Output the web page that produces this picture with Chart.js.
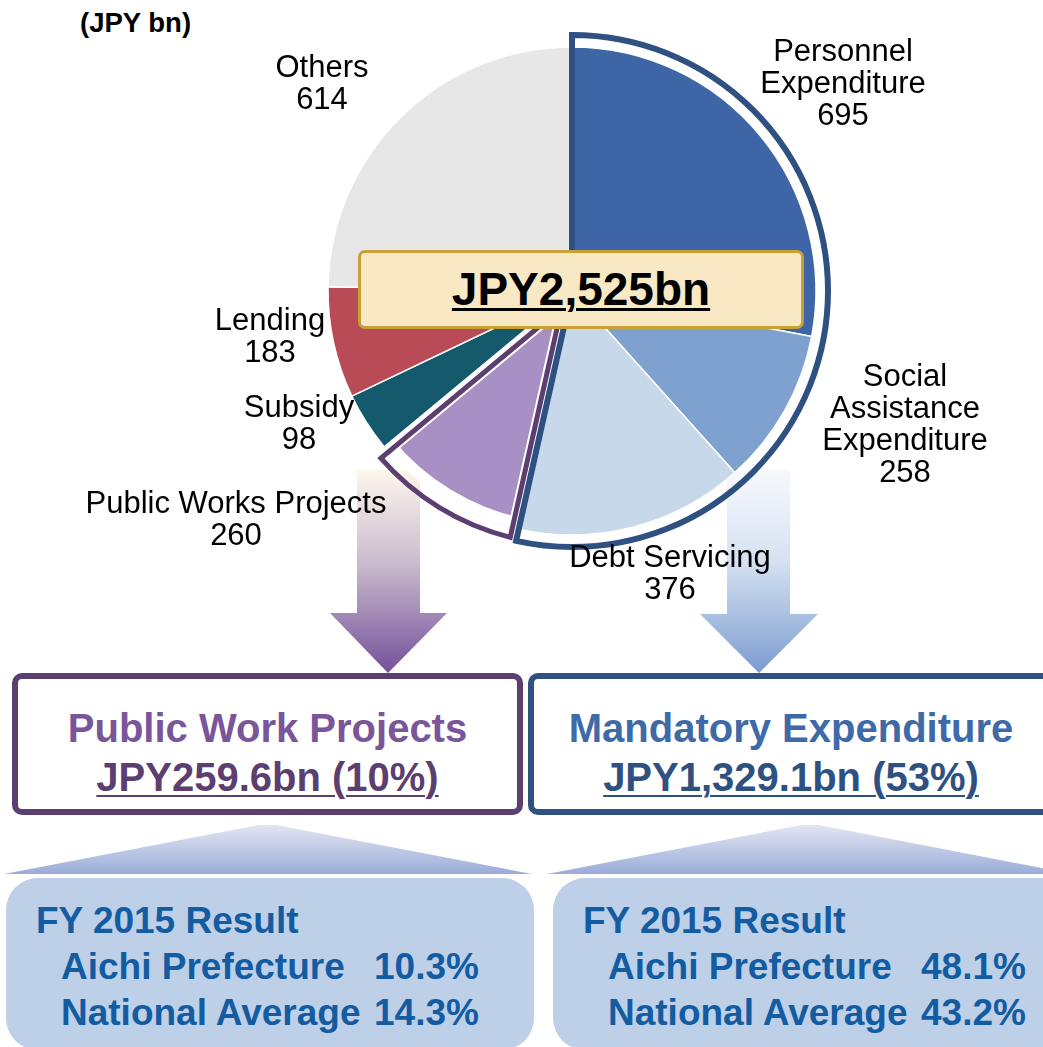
<!DOCTYPE html>
<html lang="en">
<head>
<meta charset="UTF-8">
<title>Aichi Prefecture Expenditure (JPY bn)</title>
<script src="https://cdn.jsdelivr.net/npm/chart.js"></script>
<style>
  body {
    margin: 0; width: 1043px; height: 1047px; overflow: hidden; position: relative;
    background: #fff; font-family: "Liberation Sans", Arial, sans-serif; color: #000;
  }
  #deco { position: absolute; left: 0; top: 0; z-index: 0; }
  #pieWrap { position: absolute; left: 302px; top: 21px; width: 540px; height: 540px; z-index: 1; }
  .lbl {
    position: absolute; transform: translateX(-50%); text-align: center;
    font-size: 31px; line-height: 32px; white-space: nowrap; z-index: 2;
  }
  #unit { position: absolute; left: 80px; top: 7px; font-size: 27.5px; line-height: 32px; font-weight: bold; }
  #total {
    position: absolute; left: 358px; top: 250px; width: 446px; height: 79px; box-sizing: border-box;
    border: 3px solid #c9a035; border-radius: 7px; background: #f8e9c4; z-index: 3;
    text-align: center; font-weight: bold; font-size: 46px; line-height: 73px;
    text-decoration: underline; text-decoration-thickness: 3px; text-underline-offset: 3px;
  }
  .group {
    position: absolute; top: 673px; height: 142px; box-sizing: border-box;
    border: 6px solid; border-radius: 10px; background: #fff; z-index: 1;
  }
  .group .t {
    position: absolute; left: 0; right: 0; top: 25px; text-align: center;
    font-weight: bold; font-size: 40px; line-height: 49px; white-space: nowrap;
  }
  .group .a { text-decoration: underline; text-decoration-thickness: 2px; text-underline-offset: 4px; }
  #gPub { left: 12px; width: 511px; border-color: #5c3f70; }
  #gPub .h { color: #7a559a; } #gPub .a { color: #5c3f70; }
  #gMan { left: 528px; width: 526px; border-color: #2e5182; }
  #gMan .h { color: #3f6aa8; } #gMan .a { color: #2e5182; }
  .result {
    position: absolute; top: 878px; height: 172px; width: 528px; border-radius: 32px;
    background: #bdd0e8; color: #135ca2; font-weight: bold; font-size: 37px; line-height: 46px; z-index: 1;
  }
  .result div { position: absolute; white-space: nowrap; }
  #rPub { left: 6px; }
  #rMan { left: 553px; }
</style>
</head>
<body>
<svg id="deco" width="1043" height="1047">
  <defs>
    <linearGradient id="gPurple" x1="0" y1="470" x2="0" y2="673" gradientUnits="userSpaceOnUse">
      <stop offset="0" stop-color="#fdf6ec"/>
      <stop offset="0.45" stop-color="#cbbdcf"/>
      <stop offset="1" stop-color="#74509a"/>
    </linearGradient>
    <linearGradient id="gBlue" x1="0" y1="470" x2="0" y2="673" gradientUnits="userSpaceOnUse">
      <stop offset="0" stop-color="#f7f9fd"/>
      <stop offset="0.45" stop-color="#d6e1f1"/>
      <stop offset="1" stop-color="#7b9cd0"/>
    </linearGradient>
    <linearGradient id="gTrap" x1="0" y1="825" x2="0" y2="874" gradientUnits="userSpaceOnUse">
      <stop offset="0" stop-color="#e2e6f2"/>
      <stop offset="1" stop-color="#9aacd8"/>
    </linearGradient>
  </defs>
  <polygon points="357,470 420,470 420,613 447,613 388,673 330,613 357,613" fill="url(#gPurple)"/>
  <polygon points="727,470 790,470 790,614 818,614 759,673 700,614 727,614" fill="url(#gBlue)"/>
  <polygon points="4,874 258,825 276,825 532,874" fill="url(#gTrap)"/>
  <polygon points="547,874 801,825 819,825 1073,874" fill="url(#gTrap)"/>
</svg>

<div id="unit"></div>
<div id="pieWrap"><canvas id="pie"></canvas></div>
<div id="total"></div>

<div class="group" id="gPub"><div class="t"><div class="h"></div><span class="a"></span></div></div>
<div class="group" id="gMan"><div class="t"><div class="h"></div><span class="a"></span></div></div>

<div class="result" id="rPub"></div>
<div class="result" id="rMan"></div>

<script>
// budget breakdown, JPY bn
const categories = [
  ['Personnel', 'Expenditure'],
  ['Social', 'Assistance', 'Expenditure'],
  ['Debt Servicing'],
  ['Public Works Projects'],
  ['Subsidy'],
  ['Lending'],
  ['Others']
];
const amounts = [695, 258, 376, 260, 98, 183, 614];
const sliceColors = ['#3e66a6', '#7ea1d0', '#c8d8eb', '#a88fc4', '#155a6c', '#b84b56', '#e7e7e7'];
const mandatoryIdx = [0, 1, 2];
const publicIdx = 3;

const unitLabel = '(JPY bn)';
const totalLabel = 'JPY2,525bn';
const groupTitles = ['Public Work Projects', 'Mandatory Expenditure'];
const groupAmounts = ['JPY259.6bn (10%)', 'JPY1,329.1bn (53%)'];
const resultTitle = 'FY 2015 Result';
const resultRows = ['Aichi Prefecture', 'National Average'];
const publicResults = ['10.3%', '14.3%'];
const mandatoryResults = ['48.1%', '43.2%'];

// label anchor: centre x, top of first line
const labelPos = [[843, 35], [905, 360], [670, 541], [236, 487], [299, 391], [270, 304], [322, 51]];

document.getElementById('unit').textContent = unitLabel;
document.getElementById('total').textContent = totalLabel;

categories.forEach((lines, i) => {
  const d = document.createElement('div');
  d.className = 'lbl';
  d.style.left = labelPos[i][0] + 'px';
  d.style.top = labelPos[i][1] + 'px';
  d.innerHTML = lines.concat(String(amounts[i])).join('<br>');
  document.body.appendChild(d);
});

['gPub', 'gMan'].forEach((id, i) => {
  const el = document.getElementById(id);
  el.querySelector('.h').textContent = groupTitles[i];
  el.querySelector('.a').textContent = groupAmounts[i];
});

function fillResult(id, values) {
  const box = document.getElementById(id);
  const add = (txt, x, y) => {
    const d = document.createElement('div');
    d.textContent = txt;
    d.style.left = x + 'px';
    d.style.top = y + 'px';
    box.appendChild(d);
  };
  add(resultTitle, 30, 20);
  resultRows.forEach((r, i) => {
    add(r, 55, 66 + i * 46);
    add(values[i], 368, 66 + i * 46);
  });
}
fillResult('rPub', publicResults);
fillResult('rMan', mandatoryResults);

// outlines for the mandatory group and the public works slice
const groupOutline = {
  id: 'groupOutline',
  afterDatasetsDraw(chart) {
    const arcs = chart.getDatasetMeta(0).data;
    const ctx = chart.ctx;
    const first = arcs[mandatoryIdx[0]].getProps(['x', 'y', 'startAngle', 'outerRadius'], true);
    const last = arcs[mandatoryIdx[mandatoryIdx.length - 1]].getProps(['endAngle'], true);
    const cx = first.x, cy = first.y, R = first.outerRadius;

    ctx.save();
    ctx.beginPath();
    ctx.moveTo(cx, cy);
    ctx.arc(cx, cy, R + 12, first.startAngle, last.endAngle);
    ctx.closePath();
    ctx.lineWidth = 6;
    ctx.strokeStyle = '#2e5182';
    ctx.lineJoin = 'miter';
    ctx.stroke();

    const p = arcs[publicIdx].getProps(['startAngle', 'endAngle'], true);
    const inset = 6.5, Rp = R + 10;
    const half = (p.endAngle - p.startAngle) / 2;
    const mid = p.startAngle + half;
    const k = inset / Math.sin(half);
    const da = Math.asin(inset / Rp);
    ctx.beginPath();
    ctx.moveTo(cx + k * Math.cos(mid), cy + k * Math.sin(mid));
    ctx.arc(cx, cy, Rp, p.startAngle + da, p.endAngle - da);
    ctx.closePath();
    ctx.lineWidth = 5;
    ctx.strokeStyle = '#5c3f70';
    ctx.stroke();
    ctx.restore();
  }
};

new Chart(document.getElementById('pie'), {
  type: 'pie',
  data: {
    labels: categories.map(c => c.join(' ')),
    datasets: [{
      data: amounts,
      backgroundColor: sliceColors,
      borderColor: '#ffffff',
      borderWidth: ctx => ctx.dataIndex === publicIdx ? 11 : 1.5,
      borderAlign: ctx => ctx.dataIndex === publicIdx ? 'inner' : 'center'
    }]
  },
  options: {
    responsive: true,
    maintainAspectRatio: false,
    animation: false,
    radius: 244,
    layout: { padding: 0 },
    plugins: { legend: { display: false }, tooltip: { enabled: false } }
  },
  plugins: [groupOutline]
});
</script>
</body>
</html>
